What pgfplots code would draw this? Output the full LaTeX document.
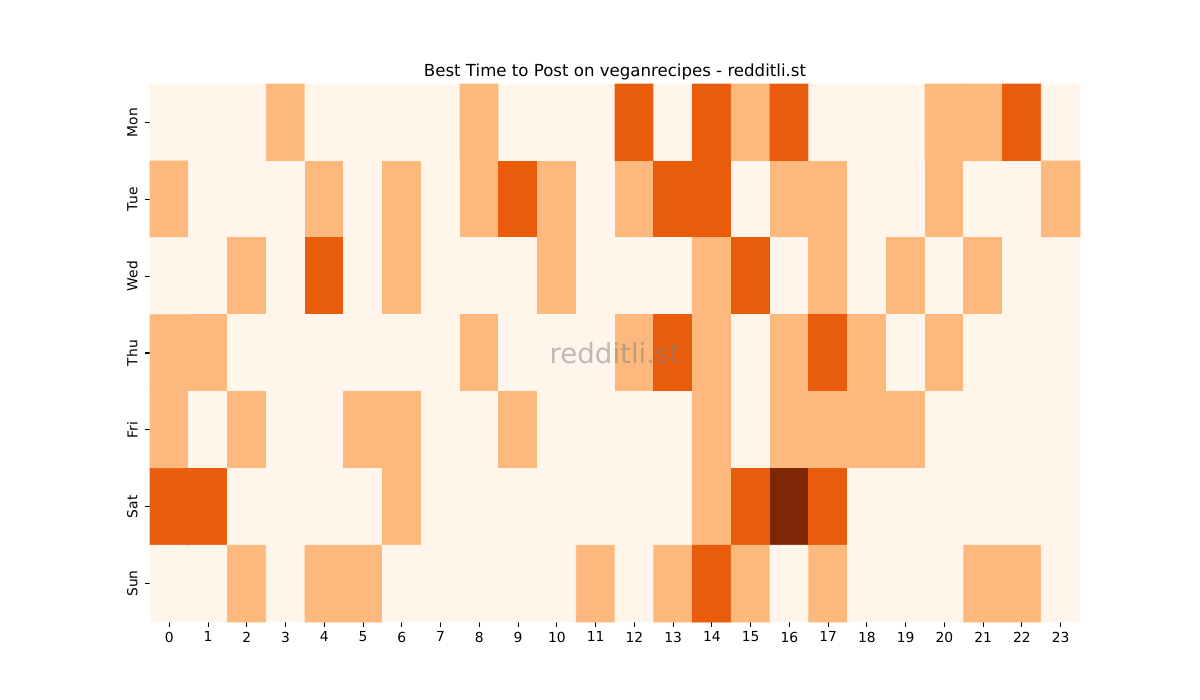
\documentclass[border=0pt]{standalone}
\usepackage{fontspec}
\setmainfont{DejaVu Sans}
\usepackage{pgfplots}
\pgfplotsset{compat=1.18}
\begin{document}
\begin{tikzpicture}
\path[use as bounding box] (-1.5in,-0.78in) rectangle (10.5in,6.22in);
\begin{axis}[
  at={(0,0)}, anchor=south west,
  scale only axis, width=9.3in, height=5.38in,
  xmin=-0.5, xmax=23.5, ymin=-0.5, ymax=6.5,
  y dir=reverse,
  axis line style={draw=none},
  xtick={0,1,...,23},
  ytick={0,1,...,6},
  yticklabels={Mon,Tue,Wed,Thu,Fri,Sat,Sun},
  yticklabel style={xshift=-2pt, rotate=90, anchor=south},
  xtick pos=bottom, ytick pos=left,
  tick align=outside,
  major tick length=3.5pt,
  tick style={black, line width=0.8pt},
  /pgf/number format/assume math mode=true,
  title={Best Time to Post on veganrecipes - redditli.st},
  title style={font=\fontsize{12}{14.4}\selectfont, yshift=-6.5pt},
  colormap={hm}{rgb255=(255,245,235) rgb255=(253,185,125) rgb255=(232,92,12) rgb255=(127,39,4)},
  point meta min=0, point meta max=3,
  clip=false,
]
\addplot[matrix plot*, mesh/cols=24, point meta=explicit, draw=none] coordinates {
(0,0)[0] (1,0)[0] (2,0)[0] (3,0)[1] (4,0)[0] (5,0)[0] (6,0)[0] (7,0)[0] (8,0)[1] (9,0)[0] (10,0)[0] (11,0)[0] (12,0)[2] (13,0)[0] (14,0)[2] (15,0)[1] (16,0)[2] (17,0)[0] (18,0)[0] (19,0)[0] (20,0)[1] (21,0)[1] (22,0)[2] (23,0)[0]

(0,1)[1] (1,1)[0] (2,1)[0] (3,1)[0] (4,1)[1] (5,1)[0] (6,1)[1] (7,1)[0] (8,1)[1] (9,1)[2] (10,1)[1] (11,1)[0] (12,1)[1] (13,1)[2] (14,1)[2] (15,1)[0] (16,1)[1] (17,1)[1] (18,1)[0] (19,1)[0] (20,1)[1] (21,1)[0] (22,1)[0] (23,1)[1]

(0,2)[0] (1,2)[0] (2,2)[1] (3,2)[0] (4,2)[2] (5,2)[0] (6,2)[1] (7,2)[0] (8,2)[0] (9,2)[0] (10,2)[1] (11,2)[0] (12,2)[0] (13,2)[0] (14,2)[1] (15,2)[2] (16,2)[0] (17,2)[1] (18,2)[0] (19,2)[1] (20,2)[0] (21,2)[1] (22,2)[0] (23,2)[0]

(0,3)[1] (1,3)[1] (2,3)[0] (3,3)[0] (4,3)[0] (5,3)[0] (6,3)[0] (7,3)[0] (8,3)[1] (9,3)[0] (10,3)[0] (11,3)[0] (12,3)[1] (13,3)[2] (14,3)[1] (15,3)[0] (16,3)[1] (17,3)[2] (18,3)[1] (19,3)[0] (20,3)[1] (21,3)[0] (22,3)[0] (23,3)[0]

(0,4)[1] (1,4)[0] (2,4)[1] (3,4)[0] (4,4)[0] (5,4)[1] (6,4)[1] (7,4)[0] (8,4)[0] (9,4)[1] (10,4)[0] (11,4)[0] (12,4)[0] (13,4)[0] (14,4)[1] (15,4)[0] (16,4)[1] (17,4)[1] (18,4)[1] (19,4)[1] (20,4)[0] (21,4)[0] (22,4)[0] (23,4)[0]

(0,5)[2] (1,5)[2] (2,5)[0] (3,5)[0] (4,5)[0] (5,5)[0] (6,5)[1] (7,5)[0] (8,5)[0] (9,5)[0] (10,5)[0] (11,5)[0] (12,5)[0] (13,5)[0] (14,5)[1] (15,5)[2] (16,5)[3] (17,5)[2] (18,5)[0] (19,5)[0] (20,5)[0] (21,5)[0] (22,5)[0] (23,5)[0]

(0,6)[0] (1,6)[0] (2,6)[1] (3,6)[0] (4,6)[1] (5,6)[1] (6,6)[0] (7,6)[0] (8,6)[0] (9,6)[0] (10,6)[0] (11,6)[1] (12,6)[0] (13,6)[1] (14,6)[2] (15,6)[1] (16,6)[0] (17,6)[1] (18,6)[0] (19,6)[0] (20,6)[0] (21,6)[1] (22,6)[1] (23,6)[0]
};
\node[text=gray, opacity=0.5, font=\fontsize{20}{24}\selectfont] at (axis cs:11.5,3) {redditli.st};
\end{axis}
\end{tikzpicture}
\end{document}
